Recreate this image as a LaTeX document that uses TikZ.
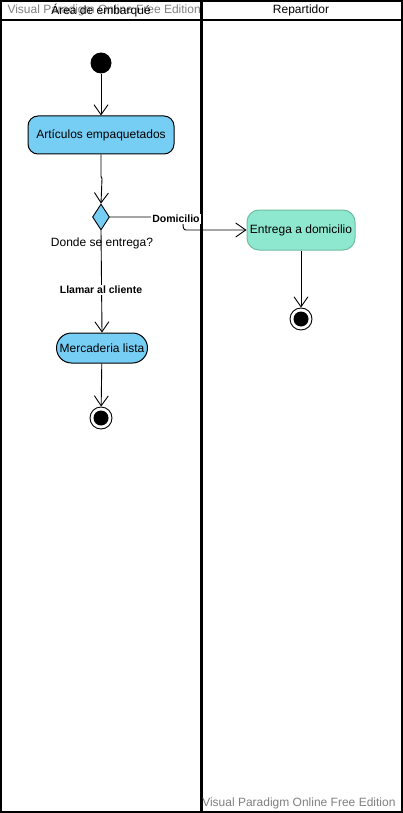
\documentclass[tikz,border=0pt]{standalone}
\usepackage{fontspec}
\setmainfont{Liberation Sans}
\usetikzlibrary{arrows.meta,shapes.geometric}
\definecolor{actblue}{RGB}{118,206,245}
\definecolor{actgreen}{RGB}{142,232,208}
\definecolor{greenborder}{RGB}{110,190,160}
\definecolor{wmgray}{RGB}{128,128,128}
\tikzset{
  act/.style={draw=black, line width=1pt, fill=actblue, rounded corners=10pt, minimum height=38pt, inner sep=2pt, font=\fontsize{12}{14}\selectfont},
  actg/.style={draw=greenborder, line width=1pt, fill=actgreen, rounded corners=12pt, minimum height=40pt, minimum width=108pt, inner sep=2pt, font=\fontsize{12}{14}\selectfont},
  flow/.style={draw=black, line width=0.9pt, -{Straight Barb[length=10pt,width=14pt,line width=0.9pt]}},
  lbl/.style={font=\bfseries\fontsize{10.5}{12}\selectfont, fill=white, inner sep=1pt},
  wm/.style={text=wmgray, font=\fontsize{12}{14}\selectfont},
}
\begin{document}
\begin{tikzpicture}[x=1pt,y=-1pt]
\useasboundingbox (0,0) rectangle (403,813);
\fill[white] (0,0) rectangle (403,813);
% swimlanes
\draw[line width=2pt] (1,1) rectangle (402,812);
\draw[line width=2pt] (1,20) -- (402,20);
\draw[line width=3pt] (201,1) -- (201,812);
\node[wm, anchor=west] (wm1) at (4,10.5) {Visual Paradigm Online Free Edition};
\node[font=\fontsize{12}{14}\selectfont] (lane1) at (101,10.5) {Área de embarqué};
\node[font=\fontsize{12}{14}\selectfont] (lane2) at (301,10.5) {Repartidor};
\node[wm, anchor=east] (wm2) at (399,803) {Visual Paradigm Online Free Edition};
% nodes
\node[circle, fill=black, minimum size=21pt, inner sep=0pt] (start) at (101,63) {};
\node[act, minimum width=146pt] (art) at (101,135) {Artículos empaquetados};
\node[diamond, draw=black, fill=actblue, minimum width=17pt, minimum height=26pt, inner sep=0pt, line width=0.9pt] (dec) at (101,217) {};
\node[font=\fontsize{12}{14}\selectfont] (declbl) at (102,243) {Donde se entrega?};
\node[actg] (ent) at (301,230) {Entrega a domicilio};
\node[act, minimum width=91pt, minimum height=30pt, rounded corners=15pt] (merc) at (102,348) {Mercaderia lista};
\node[circle, draw=black, line width=0.9pt, fill=white, minimum size=22pt, inner sep=0pt] (end1) at (101,418) {};
\node[circle, fill=black, minimum size=15pt, inner sep=0pt] (end1i) at (101,418) {};
\node[circle, draw=black, line width=0.9pt, fill=white, minimum size=22pt, inner sep=0pt] (end2) at (301,319) {};
\node[circle, fill=black, minimum size=15pt, inner sep=0pt] (end2i) at (301,319) {};
% connectors
\draw[flow] (start) -- (art);
\draw[flow] (art.south) -- ++(0,22) -- ++(1,2) -- (dec.north);
\draw[flow] (dec.east) -- (180,217) to[out=0,in=180] (186,230) -- (ent.west);
\node[lbl] (domlbl) at (176,219) {Domicilio};
\draw[flow] (dec.south) -- (merc.north);
\node[lbl] (llamlbl) at (101,290) {Llamar al cliente};
\draw[flow] (merc) -- (end1);
\draw[flow] (ent) -- (end2);
\end{tikzpicture}
\end{document}
